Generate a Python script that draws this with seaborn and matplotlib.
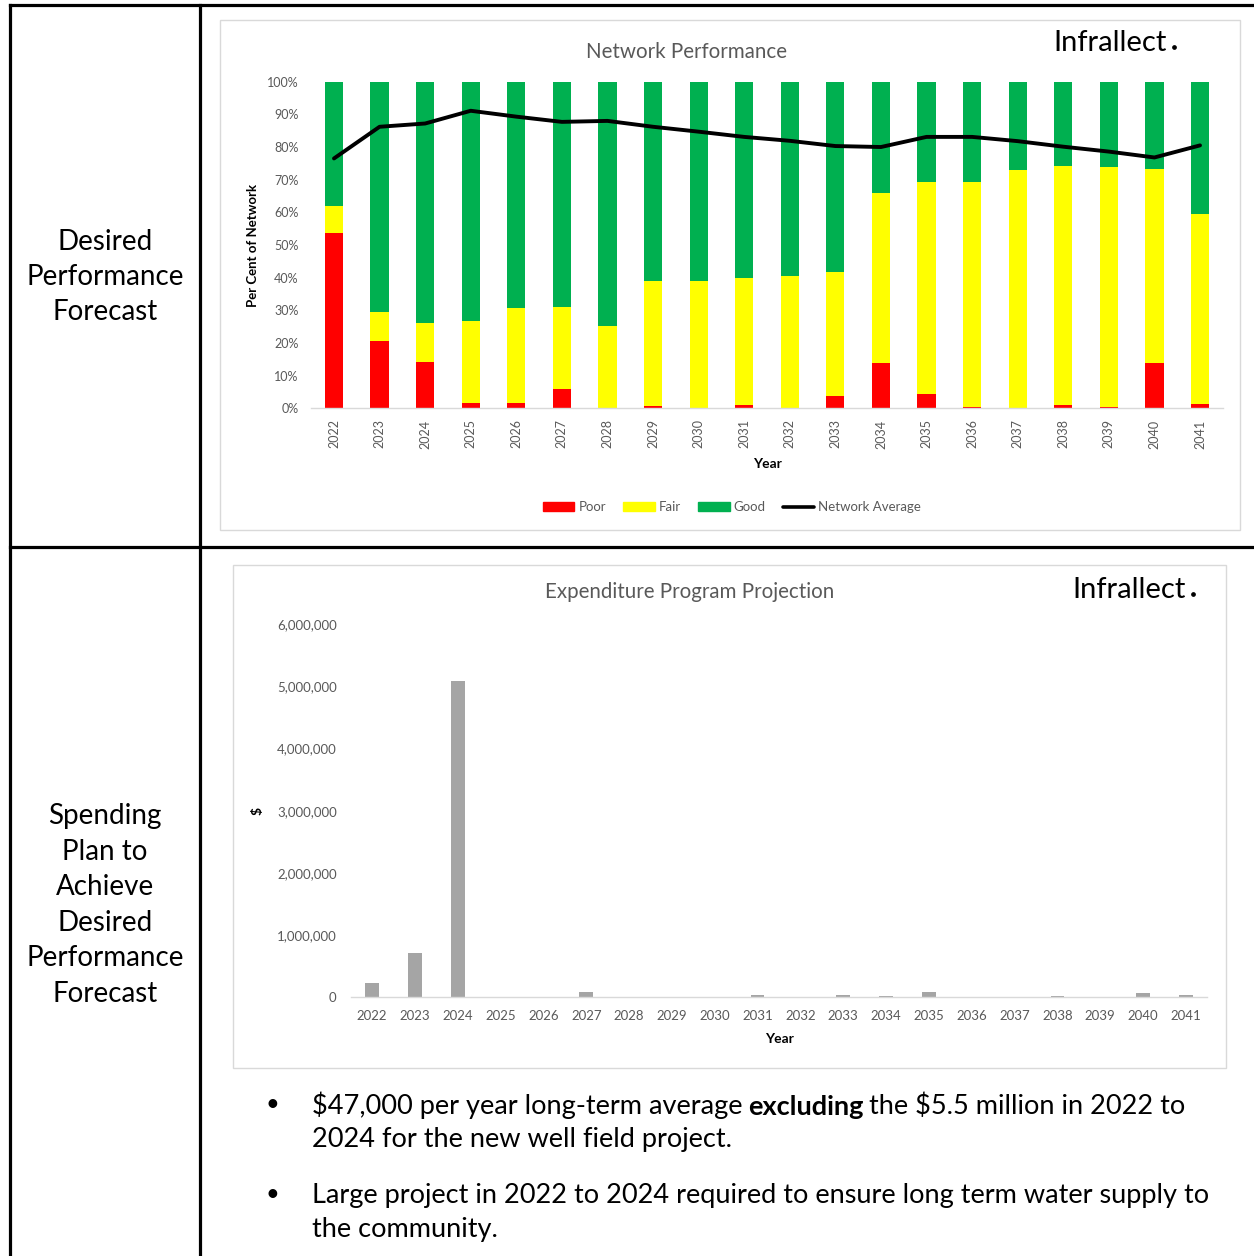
import numpy as np
import pandas as pd
import matplotlib
matplotlib.use("Agg")
import matplotlib.pyplot as plt
import seaborn as sns
from matplotlib.patches import Patch, Rectangle
from matplotlib.lines import Line2D
from matplotlib.ticker import FuncFormatter, MultipleLocator

# ---------------- data ----------------
years = [str(y) for y in range(2022, 2042)]

# condition shares of the network (per cent)
poor = [53.6, 20.7, 14.3, 1.5, 1.5, 5.9, 0.0, 0.7, 0.0, 1.1,
        0.0, 3.8, 13.8, 4.4, 0.4, 0.0, 1.1, 0.4, 14.0, 1.3]
fair = [8.3, 8.7, 11.7, 25.3, 29.1, 25.2, 25.2, 38.4, 38.9, 38.7,
        40.6, 38.0, 52.2, 64.9, 68.9, 72.9, 73.2, 73.5, 59.4, 58.2]
good = [round(100 - p - f, 1) for p, f in zip(poor, fair)]
network_avg = [76.5, 86.2, 87.2, 91.1, 89.3, 87.7, 88.0, 86.2, 84.7, 83.1,
               81.9, 80.3, 80.0, 83.1, 83.1, 81.8, 80.1, 78.6, 76.8, 80.5]

# annual expenditure ($)
spend = [225000, 718000, 5088000, 0, 0, 85000, 0, 0, 0, 30000,
         0, 45000, 25000, 85000, 0, 0, 25000, 0, 65000, 30000]

row_labels = ["Desired\nPerformance\nForecast",
              "Spending\nPlan to\nAchieve\nDesired\nPerformance\nForecast"]

RED, YELLOW, GREEN, GREY = "#FF0000", "#FFFF00", "#00B050", "#A5A5A5"
TXT = "#595959"
AXIS = "#D9D9D9"

sns.set_style("white")
plt.rcParams["font.family"] = ["Lato", "DejaVu Sans"]

W, H = 1254, 1256
fig = plt.figure(figsize=(W / 100, H / 100), dpi=100)


def frac(x0, y0, x1, y1):
    """pixel box (top-left origin) -> figure fraction rect"""
    return [x0 / W, 1 - y1 / H, (x1 - x0) / W, (y1 - y0) / H]


# ---------------- table / frame layer ----------------
fa = fig.add_axes([0, 0, 1, 1], zorder=0)
fa.set_xlim(0, W)
fa.set_ylim(H, 0)
fa.axis("off")

lw_tab = 2.3
for (x0, y0, x1, y1) in [(10, 5, W, 5), (10, 547, W, 547),
                         (10, 5, 10, H), (200, 5, 200, H)]:
    fa.plot([x0, x1], [y0, y1], color="black", lw=lw_tab, solid_capstyle="projecting")

fa.add_patch(Rectangle((220, 20), 1020, 510, fill=False, ec=AXIS, lw=1))
fa.add_patch(Rectangle((233, 565), 993, 503, fill=False, ec=AXIS, lw=1))

fa.text(105, 277, row_labels[0], ha="center", va="center", fontsize=20,
        linespacing=1.42, color="black")
fa.text(105, 905, row_labels[1], ha="center", va="center", fontsize=20,
        linespacing=1.45, color="black")

# chart titles and brand marks
fa.text(687, 52, "Network Performance", ha="center", va="center", fontsize=14.8, color=TXT)
fa.text(690, 592, "Expenditure Program Projection", ha="center", va="center",
        fontsize=14.8, color=TXT)
for (bx, by) in [(1110, 43), (1129, 590)]:
    fa.text(bx, by, "Infrallect", ha="center", va="center", fontsize=21, color="black")
    fa.plot([bx + 64], [by + 4], marker="o", ms=2.4, color="black")

# bullet notes
bfs = 19.5
for by in (1105, 1195):
    fa.text(272, by, "\u2022", ha="center", va="center", fontsize=17, color="black")

t1 = fa.text(312, 1105, "$47,000 per year long-term average", ha="left", va="center",
             fontsize=bfs, color="black", parse_math=False)
t2 = fa.annotate("excluding", xy=(1, 0), xycoords=t1, xytext=(4, 0),
                 textcoords="offset points", ha="left", va="bottom",
                 fontsize=bfs, fontweight="bold", color="black")
fa.annotate("the $5.5 million in 2022 to", xy=(1, 0), xycoords=t2, xytext=(4, 0),
            textcoords="offset points", ha="left", va="bottom",
            fontsize=bfs, color="black", parse_math=False)
fa.text(312, 1139, "2024 for the new well field project.", ha="left", va="center",
        fontsize=bfs, color="black")
fa.text(312, 1195, "Large project in 2022 to 2024 required to ensure long term water supply to",
        ha="left", va="center", fontsize=bfs, color="black")
fa.text(312, 1229, "the community.", ha="left", va="center", fontsize=bfs, color="black")

# ---------------- network performance chart ----------------
df = pd.DataFrame({"year": years, "poor": poor, "fair": fair, "good": good,
                   "avg": network_avg})
df["fair_top"] = df["poor"] + df["fair"]
df["good_top"] = df["fair_top"] + df["good"]

ax1 = fig.add_axes(frac(311.2, 81.7, 1222.8, 408.3), zorder=1)
ax1.patch.set_alpha(0)
bw1 = 0.4
sns.barplot(data=df, x="year", y="good_top", color=GREEN, saturation=1,
            width=bw1, linewidth=0, ax=ax1)
sns.barplot(data=df, x="year", y="fair_top", color=YELLOW, saturation=1,
            width=bw1, linewidth=0, ax=ax1)
sns.barplot(data=df, x="year", y="poor", color=RED, saturation=1,
            width=bw1, linewidth=0, ax=ax1)
sns.pointplot(data=df, x="year", y="avg", color="black", markers="",
              linestyles="-", linewidth=2.8, errorbar=None, ax=ax1)

ax1.set_xlim(-0.5, len(years) - 0.5)
ax1.set_ylim(0, 100)
ax1.yaxis.set_major_locator(MultipleLocator(10))
ax1.yaxis.set_major_formatter(FuncFormatter(lambda v, _: f"{v:.0f}%"))
ax1.tick_params(axis="both", length=0, colors=TXT, labelsize=9)
ax1.tick_params(axis="y", pad=9)
ax1.tick_params(axis="x", pad=8, labelrotation=90)
for s in ("top", "right", "left"):
    ax1.spines[s].set_visible(False)
ax1.spines["bottom"].set_color(AXIS)
ax1.spines["bottom"].set_linewidth(1)
ax1.set_xlabel("Year", fontsize=10, fontweight="bold", color="black", labelpad=7)
ax1.set_ylabel("Per Cent of Network", fontsize=9.5, fontweight="bold", color="black",
               labelpad=6)
ax1.grid(False)

handles = [Patch(color=RED, label="Poor"), Patch(color=YELLOW, label="Fair"),
           Patch(color=GREEN, label="Good"),
           Line2D([], [], color="black", lw=2.6, label="Network Average")]
fig.legend(handles=handles, loc="center", bbox_to_anchor=(732 / W, 1 - 507 / H),
           ncol=4, frameon=False, fontsize=9.5, handlelength=2.4, handleheight=0.6,
           handletextpad=0.3, columnspacing=1.3, labelcolor=TXT)

# ---------------- expenditure chart ----------------
sp = pd.DataFrame({"year": years, "spend": spend})
ax2 = fig.add_axes(frac(350.6, 624.3, 1207.4, 997.3), zorder=1)
ax2.patch.set_alpha(0)
sns.barplot(data=sp, x="year", y="spend", color=GREY, saturation=1, width=0.32,
            linewidth=0, ax=ax2)
ax2.set_xlim(-0.5, len(years) - 0.5)
ax2.set_ylim(0, 6_000_000)
ax2.yaxis.set_major_locator(MultipleLocator(1_000_000))
ax2.yaxis.set_major_formatter(FuncFormatter(lambda v, _: f"{v:,.0f}"))
ax2.tick_params(axis="both", length=0, colors=TXT, labelsize=9.5)
ax2.tick_params(axis="y", pad=10)
ax2.tick_params(axis="x", pad=9)
for s in ("top", "right", "left"):
    ax2.spines[s].set_visible(False)
ax2.spines["bottom"].set_color(AXIS)
ax2.spines["bottom"].set_linewidth(1)
ax2.set_xlabel("Year", fontsize=10, fontweight="bold", color="black", labelpad=8)
ax2.set_ylabel("$", fontsize=10, fontweight="bold", color="black", labelpad=10)
ax2.grid(False)

fig.savefig("out.png", dpi=100, facecolor="white")
